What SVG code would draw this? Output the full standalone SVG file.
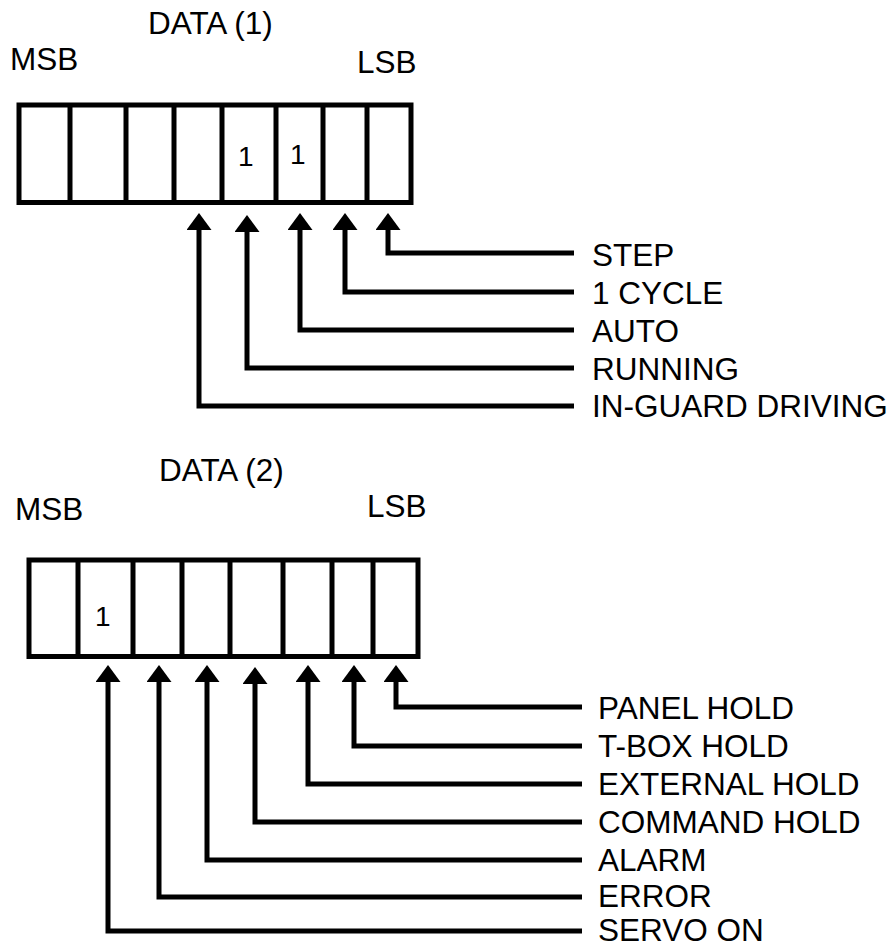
<svg xmlns="http://www.w3.org/2000/svg" width="891" height="947" viewBox="0 0 891 947">
<style>
  text { font-family: "Liberation Sans", Arial, sans-serif; fill: #000; }
  .lbl { font-size: 31.5px; }
  .box { fill: #fff; stroke: #000; stroke-width: 5; }
  .div { stroke: #000; stroke-width: 5; }
  .con { fill: none; stroke: #000; stroke-width: 5; stroke-linejoin: miter; stroke-linecap: butt; marker-end: url(#arr); }
</style>
<defs>
  <marker id="arr" viewBox="0 0 17 25" refX="1" refY="12.5" markerWidth="17" markerHeight="25" markerUnits="userSpaceOnUse" orient="auto">
    <path d="M0,0 L17,12.5 L0,25 Z" fill="#000"/>
  </marker>
</defs>
<rect width="891" height="947" fill="#fff"/>

<g id="data1">
  <text class="lbl" x="148" y="34">DATA (1)</text>
  <text class="lbl" x="10" y="70">MSB</text>
  <text class="lbl" x="357" y="73">LSB</text>
  <g id="register1">
    <rect class="box" x="19" y="105" width="392" height="97.5"/>
    <path class="div" d="M70,105V202.5M126,105V202.5M174,105V202.5M222,105V202.5M276,105V202.5M323,105V202.5M367,105V202.5"/>
    <text x="238" y="166" font-family="Liberation Sans, Arial, sans-serif" font-size="28">1</text>
    <text x="290" y="164" font-family="Liberation Sans, Arial, sans-serif" font-size="28">1</text>
  </g>
</g>

<g id="data2">
  <text class="lbl" x="159" y="481">DATA (2)</text>
  <text class="lbl" x="15" y="520">MSB</text>
  <text class="lbl" x="367" y="517">LSB</text>
  <g id="register2">
    <rect class="box" x="29" y="560" width="389" height="96.5"/>
    <path class="div" d="M78,560V656.5M133,560V656.5M182,560V656.5M230,560V656.5M283,560V656.5M332,560V656.5M373,560V656.5"/>
    <text x="95" y="626" font-family="Liberation Sans, Arial, sans-serif" font-size="28">1</text>
  </g>
</g>

<g id="labels1">
  <text id="l-step" class="lbl" x="592" y="266">STEP</text>
  <text id="l-1cycle" class="lbl" x="592" y="304">1 CYCLE</text>
  <text id="l-auto" class="lbl" x="592" y="342">AUTO</text>
  <text id="l-running" class="lbl" x="592" y="380">RUNNING</text>
  <text id="l-inguard" class="lbl" x="592" y="417">IN-GUARD DRIVING</text>
</g>

<g id="labels2">
  <text id="l-panel" class="lbl" x="598" y="719">PANEL HOLD</text>
  <text id="l-tbox" class="lbl" x="598" y="757">T-BOX HOLD</text>
  <text id="l-external" class="lbl" x="598" y="795">EXTERNAL HOLD</text>
  <text id="l-command" class="lbl" x="598" y="833">COMMAND HOLD</text>
  <text id="l-alarm" class="lbl" x="598" y="871">ALARM</text>
  <text id="l-error" class="lbl" x="598" y="907">ERROR</text>
  <text id="l-servo" class="lbl" x="598" y="941">SERVO ON</text>
</g>

<g id="connectors">
  <path class="con" d="M574,253H388V229"/>
  <path class="con" d="M574,292H345V229"/>
  <path class="con" d="M574,330H300V229"/>
  <path class="con" d="M574,368H247V231"/>
  <path class="con" d="M574,406H199V229"/>

  <path class="con" d="M582,707H396V681"/>
  <path class="con" d="M582,746H354V681"/>
  <path class="con" d="M582,784H308V681"/>
  <path class="con" d="M582,822H255V683"/>
  <path class="con" d="M582,860H207V681"/>
  <path class="con" d="M582,897H159V681"/>
  <path class="con" d="M582,931H108V681"/>
</g>
</svg>
